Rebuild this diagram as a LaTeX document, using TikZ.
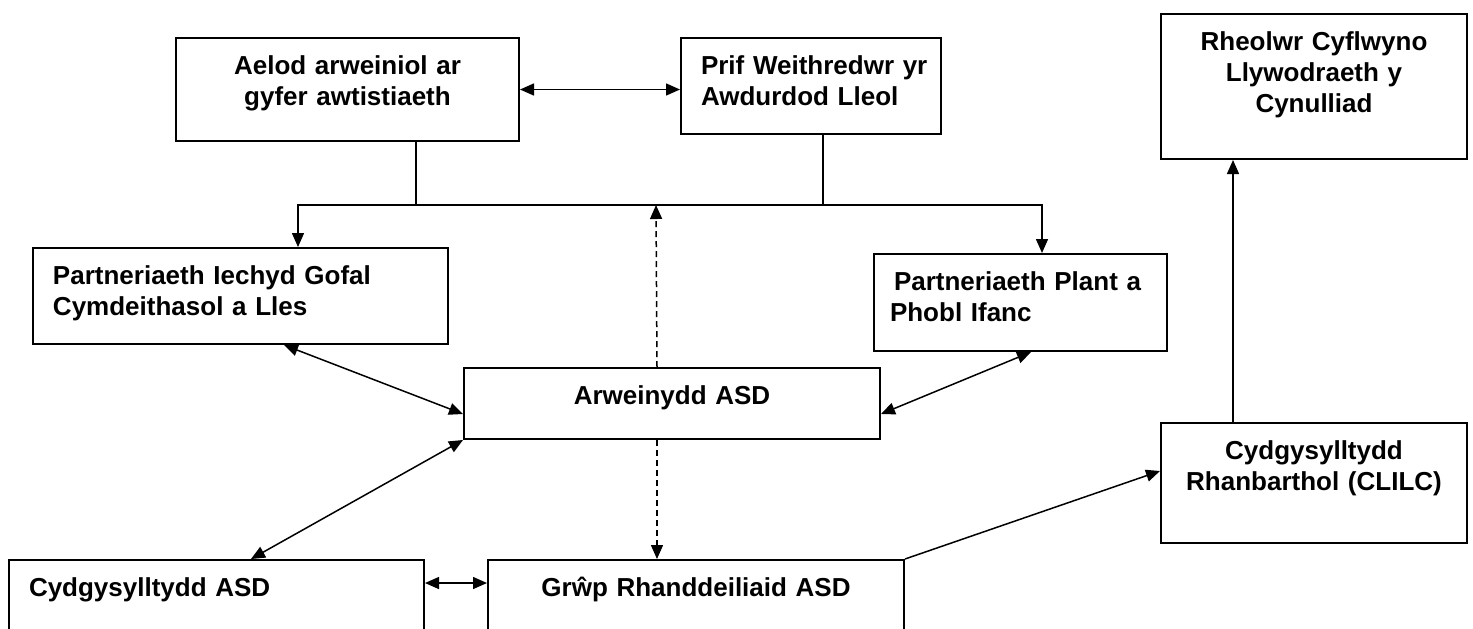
\documentclass[tikz,border=0pt]{standalone}
\usepackage{fontspec}
\setmainfont{Liberation Sans}
\usetikzlibrary{arrows.meta}

\begin{document}
\begin{tikzpicture}[
    x=0.5pt, y=-0.5pt,
    every node/.style={font=\fontsize{13}{15.5}\selectfont\bfseries},
    boks/.style={rectangle, draw=black, line width=1pt, anchor=north west,
        inner ysep=0pt, text height=18pt},
    midt/.style={boks, align=center, inner xsep=8pt},
    venstre/.style={boks, align=left},
    pil/.style={line width=0.75pt, -{Triangle[length=7pt,width=6pt]}},
    dobbelpil/.style={line width=0.75pt,
        {Triangle[length=7pt,width=6pt]}-{Triangle[length=7pt,width=6pt]}},
    stiplet/.style={pil, dash pattern=on 3pt off 2pt}
]
\useasboundingbox (0,0) rectangle (1473,628);
\clip (0,0) rectangle (1473,628);

% boksene
\node[midt, text width=155.5pt, text depth=33.5pt] (aelod) at (175,37)
    {Aelod arweiniol ar\\gyfer awtistiaeth};
\node[venstre, inner xsep=4pt, text width=122pt, text depth=30pt] (prif) at (680,37)
    {\hspace*{6pt}Prif~Weithredwr~yr\\\hspace*{6pt}Awdurdod~Lleol};
\node[midt, text width=137pt, text depth=54.5pt] (rheol) at (1160,13)
    {Rheolwr Cyflwyno\\Llywodraeth y\\Cynulliad};
\node[venstre, inner xsep=10pt, text width=187.5pt, text depth=30pt] (iechyd) at (32,247)
    {Partneriaeth Iechyd Gofal\\Cymdeithasol a Lles};
\node[venstre, inner xsep=8pt, text width=130.5pt, text depth=30.5pt] (plant) at (873,253)
    {\hspace*{2pt}Partneriaeth Plant a\\Phobl Ifanc};
\node[midt, text width=192pt, text depth=17.5pt] (arwein) at (463,367)
    {Arweinydd ASD};
\node[midt, text width=137pt, text depth=42pt] (clilc) at (1160,422)
    {Cydgysylltydd\\Rhanbarthol (CLILC)};
\node[venstre, inner xsep=10pt, text width=187.5pt, text depth=42.5pt] (cydg) at (8,559)
    {Cydgysylltydd ASD};
\node[midt, text width=192pt, text depth=42.5pt] (grwp) at (487,559)
    {Grŵp Rhanddeiliaid ASD};

% linjene
\coordinate (jl) at (416,205);
\coordinate (jr) at (823,205);
\coordinate (jm) at (656,205);

\draw[line width=0.75pt] (aelod.south -| jl) -- (jl);
\draw[line width=0.75pt] (prif.south -| jr) -- (jr);
\draw[pil] (jl) -| ([xshift=28.75pt]iechyd.north);
\draw[pil] (jl) -| ([xshift=10.75pt]plant.north);

\draw[dobbelpil] (aelod.east) -- (aelod.east -| prif.west);
\draw[stiplet] ([xshift=-7.5pt]arwein.north) -- (jm);
\draw[stiplet] ([xshift=-7.5pt]arwein.south) -- ([xshift=-7.5pt]arwein.south |- grwp.north);

\draw[dobbelpil] ([xshift=21.75pt]iechyd.south) -- ([yshift=-5.25pt]arwein.west);
\draw[dobbelpil] ([xshift=5.25pt]plant.south) -- ([yshift=-5.25pt]arwein.east);
\draw[dobbelpil] (arwein.south west) -- ([xshift=17.25pt]cydg.north);
\draw[dobbelpil] ([yshift=18.75pt]cydg.east) -- ([yshift=18.75pt]grwp.west);

\draw[pil] (grwp.north east) -- ([yshift=6pt]clilc.west);
\draw[pil] ([xshift=-40.5pt]clilc.north) -- ([xshift=-40.5pt]clilc.north |- rheol.south);
\end{tikzpicture}
\end{document}
